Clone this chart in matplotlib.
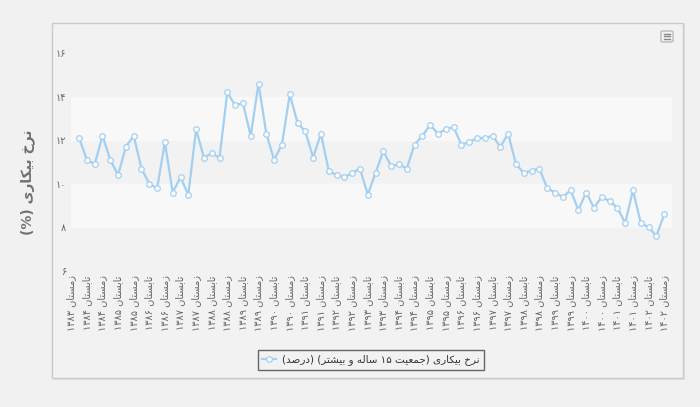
import re
import numpy as np
import matplotlib.pyplot as plt
from matplotlib.patches import Rectangle, FancyBboxPatch
from matplotlib.lines import Line2D

# نرخ بیکاری فصلی (درصد) - از بهار ۱۳۸۴ تا زمستان ۱۴۰۲
rate = [12.1, 11.1, 10.9, 12.2, 11.1, 10.4, 11.7, 12.2, 10.7, 10.0,
        9.8, 11.9, 9.6, 10.3, 9.5, 12.5, 11.2, 11.4, 11.2, 14.2,
        13.6, 13.7, 12.2, 14.6, 12.3, 11.1, 11.8, 14.1, 12.8, 12.4,
        11.2, 12.3, 10.6, 10.4, 10.3, 10.5, 10.7, 9.5, 10.5, 11.5,
        10.8, 10.9, 10.7, 11.8, 12.2, 12.7, 12.3, 12.5, 12.6, 11.8,
        11.9, 12.1, 12.1, 12.2, 11.7, 12.3, 10.9, 10.5, 10.6, 10.7,
        9.8, 9.6, 9.4, 9.7, 8.8, 9.6, 8.9, 9.4, 9.2, 8.9,
        8.2, 9.7, 8.2, 8.0, 7.6, 8.6]

seasons = ["بهار", "تابستان", "پاییز", "زمستان"]
years = list(range(1384, 1403))
yticks = [6, 8, 10, 12, 14, 16]
ylabel = "نرخ بیکاری (%)"
series_name = "نرخ بیکاری (جمعیت 15 ساله و بیشتر) (درصد)"

# دسته‌ها: زمستان ۱۳۸۳ و سپس چهار فصل هر سال
quarters = [("زمستان", 1383)] + [(s, y) for y in years for s in seasons]

# اشکال حروف: جدا، پایانی، آغازی، میانی
FORMS = {
    "\u0627": ("\uFE8D", "\uFE8E", None, None),
    "\u0628": ("\uFE8F", "\uFE90", "\uFE91", "\uFE92"),
    "\u062A": ("\uFE95", "\uFE96", "\uFE97", "\uFE98"),
    "\u062C": ("\uFE9D", "\uFE9E", "\uFE9F", "\uFEA0"),
    "\u062E": ("\uFEA5", "\uFEA6", "\uFEA7", "\uFEA8"),
    "\u062F": ("\uFEA9", "\uFEAA", None, None),
    "\u0631": ("\uFEAD", "\uFEAE", None, None),
    "\u0632": ("\uFEAF", "\uFEB0", None, None),
    "\u0633": ("\uFEB1", "\uFEB2", "\uFEB3", "\uFEB4"),
    "\u0634": ("\uFEB5", "\uFEB6", "\uFEB7", "\uFEB8"),
    "\u0635": ("\uFEB9", "\uFEBA", "\uFEBB", "\uFEBC"),
    "\u0639": ("\uFEC9", "\uFECA", "\uFECB", "\uFECC"),
    "\u0644": ("\uFEDD", "\uFEDE", "\uFEDF", "\uFEE0"),
    "\u0645": ("\uFEE1", "\uFEE2", "\uFEE3", "\uFEE4"),
    "\u0646": ("\uFEE5", "\uFEE6", "\uFEE7", "\uFEE8"),
    "\u0647": ("\uFEE9", "\uFEEA", "\uFEEB", "\uFEEC"),
    "\u0648": ("\uFEED", "\uFEEE", None, None),
    "\u06CC": ("\uFBFC", "\uFBFD", "\uFBFE", "\uFBFF"),
    "\u06A9": ("\uFB8E", "\uFB8F", "\uFB90", "\uFB91"),
}
FA_DIGITS = str.maketrans("0123456789", "۰۱۲۳۴۵۶۷۸۹")


def fa(text):
    text = str(text).translate(FA_DIGITS)
    out = []
    for i, c in enumerate(text):
        if c not in FORMS:
            out.append(c)
            continue
        iso, fin, ini, med = FORMS[c]
        prev = text[i - 1] if i > 0 else ""
        nxt = text[i + 1] if i + 1 < len(text) else ""
        jp = prev in FORMS and FORMS[prev][2] is not None
        jn = ini is not None and nxt in FORMS
        if jp and jn:
            out.append(med)
        elif jp:
            out.append(fin)
        elif jn:
            out.append(ini)
        else:
            out.append(iso)
    s = "".join(out)[::-1]
    s = s.translate(str.maketrans("()", ")("))
    s = re.sub(r"[\u06F0-\u06F9]+", lambda m: m.group(0)[::-1], s)
    return s


W, H = 700, 407


def fx(x):
    return x / W


def fy(y):
    return 1 - y / H


plt.rcParams["font.family"] = ["DejaVu Sans"]
fig = plt.figure(figsize=(7, 4.07), dpi=100, facecolor="#f1f1f1")

# قاب نمودار
fig.patches.append(Rectangle((fx(54), fy(380)), fx(683 - 52), (380 - 23) / H,
                             transform=fig.transFigure, facecolor="#e2e2e2",
                             edgecolor="none", zorder=-3))
fig.patches.append(Rectangle((fx(52), fy(378)), fx(683 - 52), (378 - 23) / H,
                             transform=fig.transFigure, facecolor="#f2f2f2",
                             edgecolor="#cacaca", lw=1, zorder=-2))

ax = fig.add_axes([fx(70.5), fy(271), fx(672 - 70.5), (271 - 53) / H])
ax.set_zorder(1)
ax.set_facecolor("none")
for sp in ax.spines.values():
    sp.set_visible(False)

ax.axhspan(8, 10, color="#f8f8f8", zorder=0)
ax.axhspan(12, 14, color="#f8f8f8", zorder=0)

x = np.arange(len(quarters) - len(rate), len(quarters))
ax.plot(x, rate, color="#a3cff0", lw=1.6, marker="o", ms=4.0,
        mfc="white", mec="#a3cff0", mew=0.9, zorder=3,
        label=fa(series_name))

ax.set_xlim(-0.1, 77.0)
ax.set_ylim(6, 16)
ax.set_yticks(yticks)
ax.set_yticklabels([fa(v) for v in yticks])

ticks = list(range(0, len(quarters), 2))
ax.set_xticks(ticks)
ax.set_xticklabels([fa(f"{quarters[i][0]} {quarters[i][1]}") for i in ticks],
                   rotation=90)
ax.tick_params(axis="both", length=0, labelsize=7, colors="#666666")
ax.tick_params(axis="x", pad=3)
ax.tick_params(axis="y", pad=3)

fig.text(fx(28), fy(182), fa(ylabel), rotation=90, fontsize=10,
         fontweight="bold", color="#707070", ha="center", va="center")

leg = ax.legend(loc="center", bbox_to_anchor=(fx(371), fy(360)),
                bbox_transform=fig.transFigure, fontsize=7.5,
                fancybox=False, edgecolor="#666666", facecolor="#f2f2f2",
                framealpha=1, handlelength=1.3, handletextpad=0.6,
                borderpad=0.45)
leg.get_frame().set_linewidth(1.0)
for t in leg.get_texts():
    t.set_color("#333333")

# آیکون منو
fig.patches.append(FancyBboxPatch((fx(661), fy(42)), fx(12), 11 / H,
                                  boxstyle="round,pad=0,rounding_size=0.003",
                                  transform=fig.transFigure, facecolor="#f4f4f4",
                                  edgecolor="#bbbbbb", lw=1))
for yy in (33.5, 36.2, 38.9):
    fig.lines.append(Line2D([fx(664), fx(670)], [fy(yy), fy(yy)],
                            transform=fig.transFigure, color="#888888", lw=1))

fig.savefig("out.png", dpi=100, facecolor=fig.get_facecolor())
